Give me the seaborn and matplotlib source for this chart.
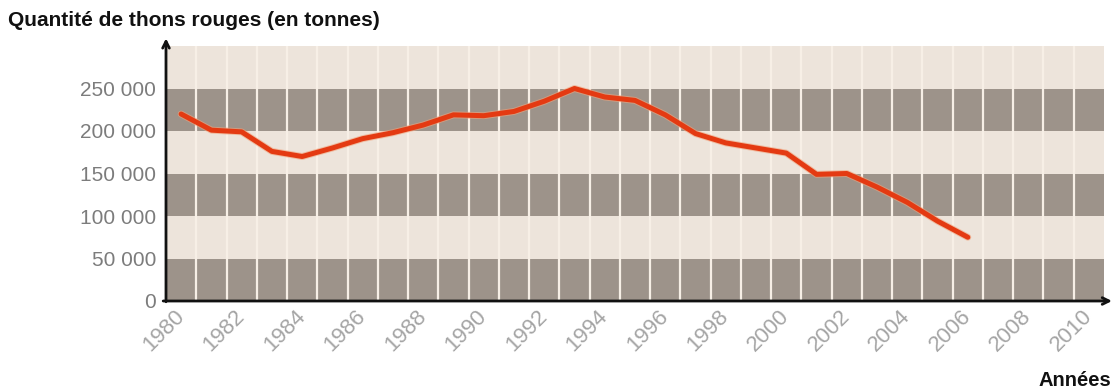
import matplotlib
matplotlib.use("Agg")
import matplotlib.pyplot as plt
import matplotlib.patheffects as pe
import seaborn as sns
import pandas as pd

years = [1980, 1981, 1982, 1983, 1984, 1985, 1986, 1987, 1988, 1989, 1990,
         1991, 1992, 1993, 1994, 1995, 1996, 1997, 1998, 1999, 2000, 2001,
         2002, 2003, 2004, 2005, 2006]
tonnes = [220000, 201000, 199000, 176000, 170000, 180000, 191000, 198000,
          207000, 219000, 218000, 223000, 235000, 250000, 240000, 236000,
          219000, 197000, 186000, 180000, 174000, 149000, 150000, 134000,
          116000, 94000, 75000]
ytick_vals = [0, 50000, 100000, 150000, 200000, 250000]
ytick_labels = ["0", "50 000", "100 000", "150 000", "200 000", "250 000"]
xtick_years = list(range(1980, 2011, 2))
title = "Quantité de thons rouges (en tonnes)"
xlabel = "Années"

sns.set_theme(style="white")
plt.rcParams['font.family'] = ['Liberation Sans', 'DejaVu Sans']

df = pd.DataFrame({"annee": years, "tonnes": tonnes})

fig = plt.figure(figsize=(11.14, 3.9), dpi=100)
ax = fig.add_axes([166/1114, 1 - 301/390, (1104 - 166)/1114, (301 - 46)/390])

dark = "#9d938a"
light = "#ede4db"
for i in range(6):
    ax.axhspan(i * 50000, (i + 1) * 50000, color=dark if i % 2 == 0 else light,
               lw=0, zorder=0)
for b in range(1981, 2011):
    ax.axvline(b - 0.5, color="#f7efe6", lw=1.6, zorder=1)

sns.lineplot(data=df, x="annee", y="tonnes", ax=ax, color="#e43a12", lw=3.6,
             zorder=3, solid_capstyle="round", solid_joinstyle="round")
for ln in ax.get_lines()[-1:]:
    ln.set_path_effects([pe.Stroke(linewidth=5.0, foreground="#f2a27a",
                                   alpha=0.6), pe.Normal()])

ax.set_xlim(1979.5, 2010.5)
ax.set_ylim(0, 300000)
ax.set_yticks(ytick_vals)
ax.set_yticklabels(ytick_labels, fontsize=15, color="#7c7c7c")
ax.set_xticks(xtick_years)
ax.set_xticklabels([str(y) for y in xtick_years], fontsize=16,
                   color="#a5a5a5", rotation=45, ha="right",
                   rotation_mode="anchor", va="center")
ax.tick_params(axis="y", length=0, pad=7)
ax.tick_params(axis="x", length=0, pad=9)
ax.set_xlabel("")
ax.set_ylabel("")
for s in ax.spines.values():
    s.set_visible(False)

# axes with arrows
ax.annotate("", xy=(1.0085, 0), xytext=(-0.003, 0), xycoords="axes fraction",
            arrowprops=dict(arrowstyle="->", color="#111111", lw=2,
                            shrinkA=0, shrinkB=0), annotation_clip=False)
ax.annotate("", xy=(0, 1.03), xytext=(0, -0.003), xycoords="axes fraction",
            arrowprops=dict(arrowstyle="->", color="#111111", lw=2,
                            shrinkA=0, shrinkB=0), annotation_clip=False)

fig.text(8/1114, 1 - 20/390, title, fontsize=15, fontweight="bold",
         color="#111111", va="center", ha="left")
fig.text(1111/1114, 1 - 380/390, xlabel, fontsize=14.5, fontweight="bold",
         color="#111111", va="center", ha="right")

fig.savefig("out.png", dpi=100, facecolor="white")
